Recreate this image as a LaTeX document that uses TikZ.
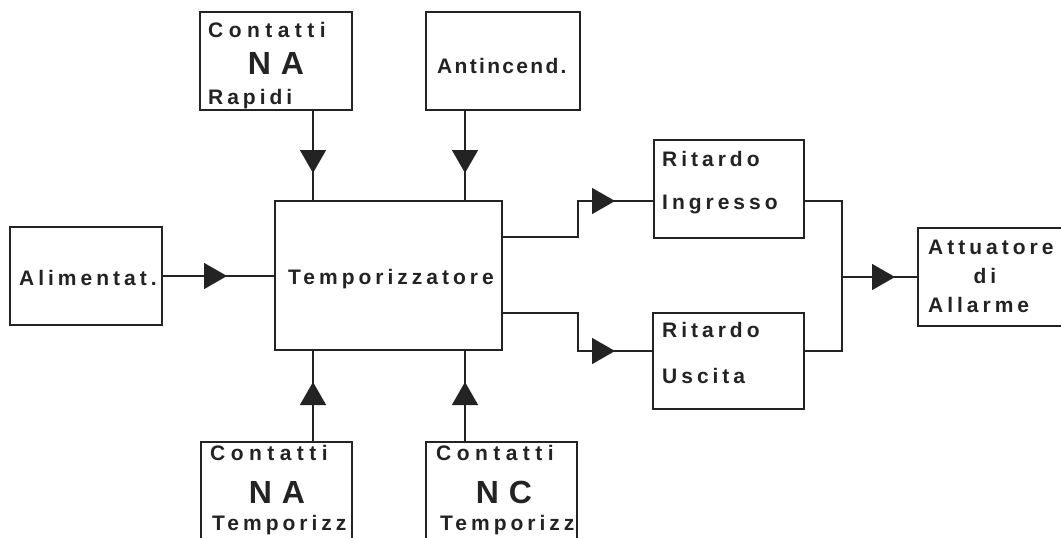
\documentclass[tikz,border=0pt]{standalone}
\usepackage{fontspec}
\newfontfamily\labfont{Liberation Sans}[LetterSpace=19]
\newfontfamily\widefont{Liberation Sans}[LetterSpace=26]
\newfontfamily\tightfont{Liberation Sans}[LetterSpace=11]
\newfontfamily\bigfont{Liberation Sans}[LetterSpace=3]
\usetikzlibrary{arrows.meta,decorations.markings,calc}
\definecolor{ink}{RGB}{35,35,35}
\begin{document}
\begin{tikzpicture}[x=1pt,y=-1pt,
  box/.style={draw=ink, line width=1.5pt, inner sep=0pt, outer sep=0pt, anchor=north west},
  conn/.style={draw=ink, line width=1.5pt},
  mk/.style={postaction={decorate}, decoration={markings, mark=at position #1 with {\arrow{Triangle[length=23pt,width=26pt]}}}},
  txt/.style={anchor=base west, inner sep=0pt, text=ink, font=\labfont\bfseries\fontsize{21}{21}\selectfont},
  widetxt/.style={txt, font=\widefont\bfseries\fontsize{21}{21}\selectfont},
  tighttxt/.style={txt, font=\tightfont\bfseries\fontsize{21}{21}\selectfont},
  bigtxt/.style={anchor=base, inner sep=0pt, text=ink, font=\bigfont\bfseries\fontsize{32}{32}\selectfont},
  midtxt/.style={anchor=base, inner sep=0pt, text=ink, font=\labfont\bfseries\fontsize{21}{21}\selectfont}
]
\useasboundingbox (0,0) rectangle (1061,538);
\fill[white] (0,0) rectangle (1061,538);
\clip (0,0) rectangle (1061,538);

\newcommand{\mybx}[5]{\node[box, minimum width=#4pt-#2pt, minimum height=#5pt-#3pt] (#1) at (#2,#3) {};}
\mybx{rap}{200}{12}{352}{110}
\mybx{anti}{426}{12}{580}{110}
\mybx{alim}{10}{227}{162}{325}
\mybx{tmp}{275}{201}{502}{350}
\mybx{na}{201}{442}{352}{560}
\mybx{nc}{426}{442}{577}{560}
\mybx{ing}{654}{140}{804}{238}
\mybx{usc}{653}{313}{804}{409}
\mybx{att}{918}{228}{1075}{326}

% texts
\node[widetxt] (rap1) at (208,37) {Contatti};
\node[bigtxt] (rap2) at (276,74) {N A};
\node[txt] (rap3) at (208,104) {Rapidi};
\node[tighttxt] (anti1) at (437,73) {Antincend.};
\node[txt] (alim1) at (19,285) {Alimentat.};
\node[txt] (tmp1) at (288,284) {Temporizzatore};
\node[txt] (ing1) at (662,166) {Ritardo};
\node[txt] (ing2) at (662,209) {Ingresso};
\node[txt] (usc1) at (662,337) {Ritardo};
\node[txt] (usc2) at (662,383) {Uscita};
\node[txt] (att1) at (928,254) {Attuatore};
\node[midtxt] (att2) at (985,283) {di};
\node[txt] (att3) at (928,312) {Allarme};
\node[widetxt] (na1) at (210,460) {Contatti};
\node[bigtxt] (na2) at (277,503) {N A};
\node[txt] (na3) at (212,530) {Temporizz};
\node[widetxt] (nc1) at (436,460) {Contatti};
\node[bigtxt] (nc2) at (504,503) {N C};
\node[txt] (nc3) at (440,530) {Temporizz};

% helper coordinates
\coordinate (xa) at (313,0);
\coordinate (xb) at (465,0);
\coordinate (xc) at (578,0);
\coordinate (xj) at (842,0);
\coordinate (ya) at (0,237);
\coordinate (yb) at (0,313);
\coordinate (yi) at (0,201);
\coordinate (yu) at (0,351);

% connectors
\draw[conn,mk=-28pt] (rap.south -| xa) -- (tmp.north -| xa);
\draw[conn,mk=-28pt] (anti.south -| xb) -- (tmp.north -| xb);
\draw[conn,mk=-32pt] (na.north -| xa) -- (tmp.south -| xa);
\draw[conn,mk=-32pt] (nc.north -| xb) -- (tmp.south -| xb);
\draw[conn,mk=-48pt] (alim.east) -- (tmp.west |- alim.east);
\draw[conn,mk=-39pt] (tmp.east |- ya) -| (xc |- yi) -- (ing.west |- yi);
\draw[conn,mk=-38pt] (tmp.east |- yb) -| (xc |- yu) -- (usc.west |- yu);
\draw[conn] (ing.east |- yi) -| (xj |- yu) -- (usc.east |- yu);
\draw[conn,mk=-23pt] (xj |- att.west) -- (att.west);
\end{tikzpicture}
\end{document}
